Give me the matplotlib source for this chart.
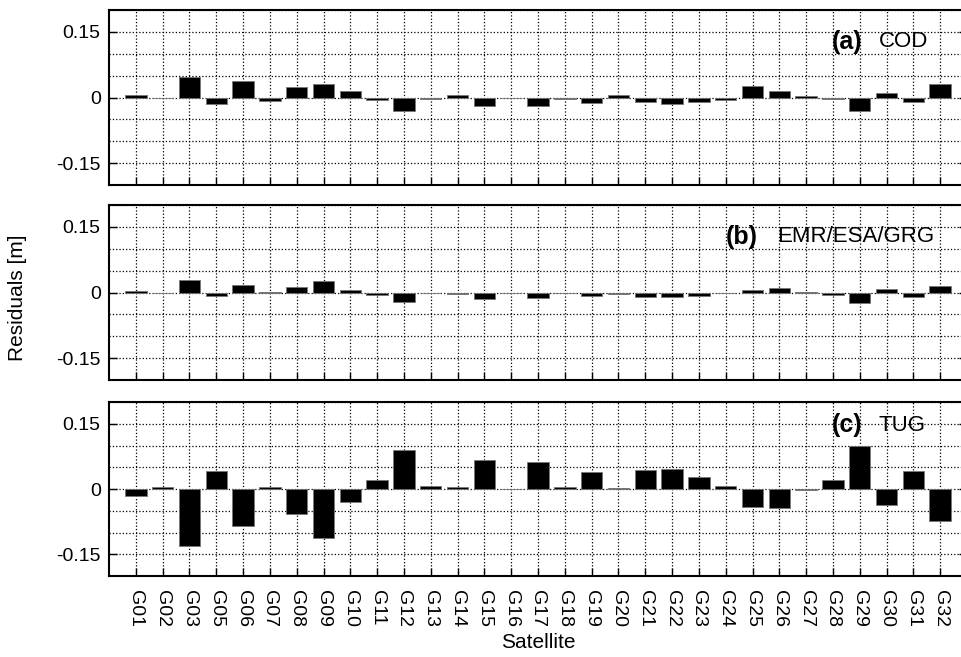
import matplotlib
matplotlib.use("Agg")
import matplotlib.pyplot as plt
import numpy as np
from matplotlib.ticker import MultipleLocator, FixedLocator

plt.rcParams['font.family'] = ['Liberation Sans', 'DejaVu Sans']

satellites = ["G01", "G02", "G03", "G05", "G06", "G07", "G08", "G09", "G10", "G11",
              "G12", "G13", "G14", "G15", "G16", "G17", "G18", "G19", "G20", "G21",
              "G22", "G23", "G24", "G25", "G26", "G27", "G28", "G29", "G30", "G31", "G32"]

cod = [0.006, -0.002, 0.046, -0.015, 0.037, -0.008, 0.023, 0.031, 0.016, -0.006,
       -0.031, -0.004, 0.006, -0.020, -0.001, -0.020, -0.004, -0.012, 0.005, -0.011,
       -0.015, -0.010, -0.005, 0.027, 0.014, 0.003, -0.004, -0.031, 0.011, -0.011, 0.030]

emr = [0.004, -0.001, 0.029, -0.009, 0.017, 0.002, 0.012, 0.027, 0.005, -0.006,
       -0.021, -0.001, -0.004, -0.015, -0.001, -0.013, -0.001, -0.009, -0.003, -0.011,
       -0.010, -0.007, -0.001, 0.006, 0.011, 0.001, -0.005, -0.023, 0.009, -0.010, 0.016]

tug = [-0.017, 0.005, -0.130, 0.042, -0.085, 0.004, -0.058, -0.112, -0.030, 0.020,
       0.090, 0.006, 0.004, 0.067, 0.001, 0.061, 0.004, 0.039, 0.003, 0.044,
       0.046, 0.028, 0.006, -0.041, -0.044, -0.003, 0.020, 0.100, -0.037, 0.042, -0.073]

panels = [("(a)", "COD", cod), ("(b)", "EMR/ESA/GRG", emr), ("(c)", "TUG", tug)]
label_pos = [(27.1, 27.7, 0.127), (23.2, 23.9, 0.127), (27.1, 27.7, 0.146)]

W, H = 962, 657
fig = plt.figure(figsize=(W / 100, H / 100), dpi=100)

boxes = [(10, 185), (205, 380), (402, 576)]
left_px, right_px = 109, 967

x = np.arange(len(satellites))
for i, ((tag, name, vals), (top, bot), (xt, xn, yl)) in enumerate(zip(panels, boxes, label_pos)):
    ax = fig.add_axes([left_px / W, 1 - bot / H, (right_px - left_px) / W, (bot - top) / H])
    ax.set_axisbelow(True)
    ax.bar(x, vals, width=0.8, color='black', edgecolor='#777777', linewidth=0.6, zorder=3)
    ax.set_xlim(-1, len(satellites))
    ax.set_ylim(-0.2, 0.2)
    ax.xaxis.set_major_locator(FixedLocator(x))
    ax.yaxis.set_major_locator(FixedLocator([-0.15, 0, 0.15]))
    ax.yaxis.set_minor_locator(MultipleLocator(0.05))
    ax.set_yticklabels(["-0.15", "0", "0.15"])
    ax.grid(True, which='both', axis='y', linestyle=':', color='black', linewidth=0.9)
    ax.grid(True, which='major', axis='x', linestyle=':', color='black', linewidth=0.9)
    ax.tick_params(axis='y', which='major', direction='in', length=6, width=1,
                   left=True, right=True, labelsize=14, pad=6)
    ax.tick_params(axis='y', which='minor', length=0)
    ax.tick_params(axis='x', which='major', direction='in', length=6, width=1,
                   bottom=True, top=False, labelsize=14, pad=10)
    for sp in ax.spines.values():
        sp.set_linewidth(1.5)
    if i < 2:
        ax.set_xticklabels([])
    else:
        ax.set_xticklabels(satellites, rotation=270, ha='center', va='top')
        ax.set_xlabel("Satellite", fontsize=15, labelpad=4)
    ax.text(xt, yl, tag, fontsize=18, fontweight='bold', ha='right', va='center', zorder=4)
    ax.text(xn, yl, name, fontsize=16, ha='left', va='center', zorder=4)

fig.text(18 / W, 1 - 298 / H, "Residuals [m]", rotation=90, fontsize=15,
         ha='center', va='center')

fig.savefig("out.png", dpi=100)
